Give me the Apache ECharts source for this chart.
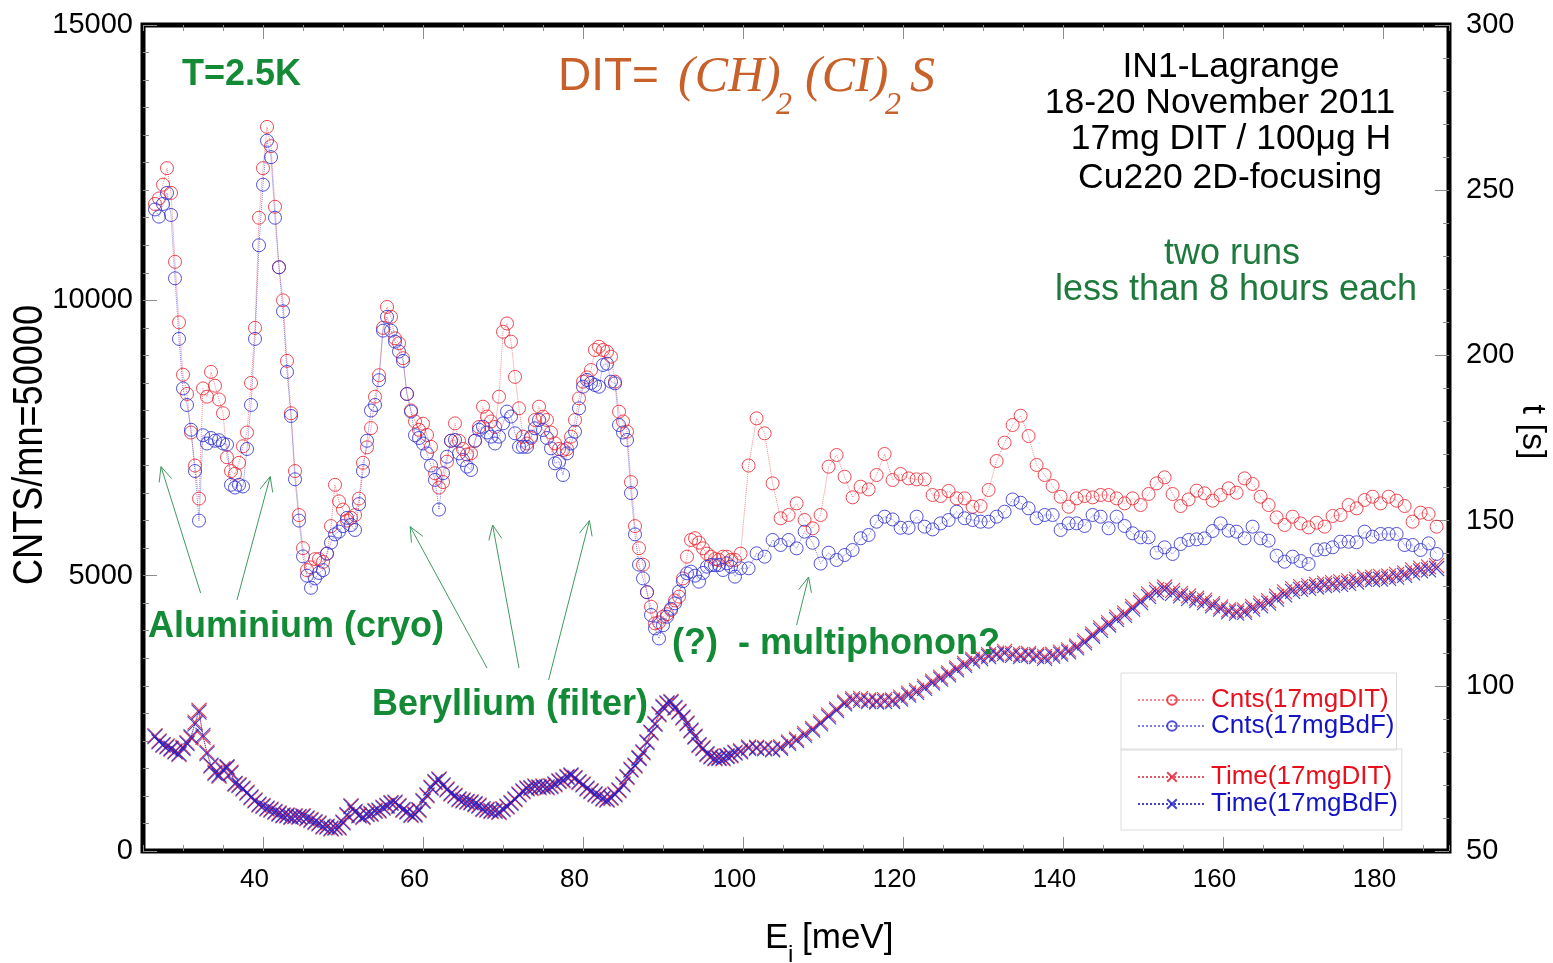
<!DOCTYPE html>
<html>
<head>
<meta charset="utf-8">
<script src="https://cdn.jsdelivr.net/npm/echarts@6/dist/echarts.min.js"></script>
<style>
  html, body { margin: 0; padding: 0; background: #fff; }
  #c { width: 1553px; height: 963px; }
</style>
</head>
<body>
<div id="c"></div>
<script>
// Incident energy grid E_i [meV]: 0.5 meV steps up to 99, then 1 meV steps
const energies = [
  26.5, 27, 27.5, 28, 28.5, 29, 29.5, 30, 30.5, 31,
  31.5, 32, 32.5, 33, 33.5, 34, 34.5, 35, 35.5, 36,
  36.5, 37, 37.5, 38, 38.5, 39, 39.5, 40, 40.5, 41,
  41.5, 42, 42.5, 43, 43.5, 44, 44.5, 45, 45.5, 46,
  46.5, 47, 47.5, 48, 48.5, 49, 49.5, 50, 50.5, 51,
  51.5, 52, 52.5, 53, 53.5, 54, 54.5, 55, 55.5, 56,
  56.5, 57, 57.5, 58, 58.5, 59, 59.5, 60, 60.5, 61,
  61.5, 62, 62.5, 63, 63.5, 64, 64.5, 65, 65.5, 66,
  66.5, 67, 67.5, 68, 68.5, 69, 69.5, 70, 70.5, 71,
  71.5, 72, 72.5, 73, 73.5, 74, 74.5, 75, 75.5, 76,
  76.5, 77, 77.5, 78, 78.5, 79, 79.5, 80, 80.5, 81,
  81.5, 82, 82.5, 83, 83.5, 84, 84.5, 85, 85.5, 86,
  86.5, 87, 87.5, 88, 88.5, 89, 89.5, 90, 90.5, 91,
  91.5, 92, 92.5, 93, 93.5, 94, 94.5, 95, 95.5, 96,
  96.5, 97, 97.5, 98, 98.5, 99,
  99.7, 100.7, 101.7, 102.7, 103.7, 104.7, 105.7, 106.7, 107.7, 108.7,
  109.7, 110.7, 111.7, 112.7, 113.7, 114.7, 115.7, 116.7, 117.7, 118.7,
  119.7, 120.7, 121.7, 122.7, 123.7, 124.7, 125.7, 126.7, 127.7, 128.7,
  129.7, 130.7, 131.7, 132.7, 133.7, 134.7, 135.7, 136.7, 137.7, 138.7,
  139.7, 140.7, 141.7, 142.7, 143.7, 144.7, 145.7, 146.7, 147.7, 148.7,
  149.7, 150.7, 151.7, 152.7, 153.7, 154.7, 155.7, 156.7, 157.7, 158.7,
  159.7, 160.7, 161.7, 162.7, 163.7, 164.7, 165.7, 166.7, 167.7, 168.7,
  169.7, 170.7, 171.7, 172.7, 173.7, 174.7, 175.7, 176.7, 177.7, 178.7,
  179.7, 180.7, 181.7, 182.7, 183.7, 184.7, 185.7, 186.7
];

// Counts per monitor 50000, sample run (17 mg DIT)
const cntsDIT = [
  11750, 11850, 12100, 12400, 11950, 10700, 9600, 8650, 8300, 7600,
  7000, 6400, 8400, 8250, 8700, 8450, 8200, 7950, 7150, 6900,
  6850, 7050, 7350, 7600, 8500, 9500, 11500, 12400, 13150, 12800,
  11700, 10600, 10000, 8900, 7950, 6900, 6100, 5500, 5100, 5150,
  5300, 5300, 5250, 5400, 5900, 6650, 6350, 6200, 6000, 6050,
  6100, 6400, 7050, 7330, 7680, 8250, 8640, 9500, 9880, 9700,
  9310, 9220, 8950, 8300, 8000, 7800, 7650, 7760, 7555, 7340,
  6860, 6600, 6700, 7070, 7450, 7766, 7450, 7300, 7200, 7220,
  7450, 7700, 8069, 7890, 7800, 7700, 8250, 9430, 9580, 9250,
  8610, 8040, 7524, 7400, 7500, 7827, 8069, 7887, 7827, 7600,
  7403, 7300, 7282, 7300, 7524, 7827, 8220, 8523, 8600, 8735,
  9098, 9158, 9098, 9067, 8977, 8523, 7978, 7800, 7615, 6700,
  5900, 5500, 5200, 4700, 4437, 4134, 4150, 4255, 4300, 4377,
  4550, 4619, 4950, 5345, 5648, 5680, 5600, 5496, 5400, 5345,
  5300, 5285, 5345, 5345, 5285, 5285,
  5400, 7000, 7857, 7585, 6677, 6042, 6102, 6313, 6011, 5860,
  6102, 6979, 7191, 6797, 6422, 6616, 6567, 6828, 7210, 6737,
  6846, 6767, 6749, 6749, 6465, 6447, 6538, 6404, 6404, 6252,
  6265, 6556, 7082, 7415, 7736, 7905, 7536, 7010, 6828, 6629,
  6434, 6252, 6404, 6447, 6422, 6465, 6465, 6404, 6313, 6404,
  6283, 6483, 6677, 6786, 6483, 6265, 6385, 6543, 6495, 6362,
  6465, 6586, 6506, 6767, 6665, 6434, 6283, 6059, 5920, 6071,
  5950, 5877, 5962, 5890, 6084, 6102, 6283, 6223, 6374, 6434,
  6313, 6434, 6362, 6265, 5980, 6144, 6120, 5890
];

// Counts per monitor 50000, background run (17 mg BdF)
const cntsBdF = [
  11650, 11520, 11750, 11950, 11550, 10400, 9300, 8400, 8100, 7650,
  6900, 6000, 7550, 7400, 7500, 7450, 7460, 7400, 7380, 6650,
  6600, 6650, 6620, 7300, 8100, 9300, 11000, 12100, 12900, 12600,
  11500, 10600, 9800, 8700, 7900, 6750, 6000, 5350, 5000, 4780,
  4950, 5050, 5100, 5400, 5600, 5750, 5800, 5900, 6050, 5920,
  5830, 6300, 6900, 7450, 8000, 8100, 8550, 9450, 9700, 9450,
  9250, 9070, 8900, 8300, 7980, 7550, 7500, 7400, 7220, 7000,
  6740, 6200, 6860, 7160, 7450, 7464, 7220, 7100, 6980, 6920,
  7450, 7650, 7705, 7600, 7524, 7400, 7524, 7766, 7980, 7890,
  7585, 7340, 7340, 7340, 7524, 7676, 7827, 7645, 7500, 7312,
  7040, 7070, 6828, 7221, 7400, 7615, 8039, 8432, 8553, 8500,
  8462, 8432, 8826, 8850, 8523, 8492, 7736, 7600, 7464, 6500,
  5750, 5200, 4950, 4700, 4286, 4043, 3860, 4100, 4255, 4400,
  4498, 4710, 4900, 5042, 5073, 5000, 4891, 5050, 5163, 5194,
  5190, 5194, 5103, 5224, 5163, 4982,
  5134, 5134, 5406, 5345, 5648, 5557, 5648, 5496, 5799, 5597,
  5220, 5417, 5285, 5375, 5466, 5679, 5739, 5980, 6071, 6021,
  5870, 5870, 6071, 5890, 5840, 5950, 6011, 6162, 6042, 6011,
  5980, 5980, 6071, 6162, 6384, 6325, 6223, 6042, 6102, 6102,
  5830, 5950, 5950, 5902, 6102, 6071, 5860, 6071, 5902, 5769,
  5696, 5696, 5417, 5515, 5394, 5575, 5648, 5660, 5678, 5811,
  5950, 5817, 5799, 5678, 5890, 5678, 5636, 5363, 5254, 5345,
  5266, 5212, 5466, 5479, 5515, 5617, 5617, 5606, 5799, 5708,
  5757, 5757, 5757, 5557, 5557, 5466, 5587, 5394
];

// Counting time per point [s], sample run
const timeDIT = [
  84.9, 83.3, 82.0, 81.8, 80.8, 80.3, 79.2, 81.4, 82.8, 84.2,
  89.0, 92.6, 84.4, 79.9, 75.7, 73.9, 72.6, 74.9, 75.2, 73.9,
  70.2, 70.1, 68.7, 67.8, 66.1, 65.5, 63.9, 63.8, 62.7, 62.7,
  61.7, 61.5, 60.6, 60.9, 60.1, 60.7, 60.2, 60.7, 59.7, 59.6,
  58.6, 58.5, 57.2, 57.5, 56.6, 57.2, 56.9, 58.8, 60.7, 63.7,
  61.7, 60.9, 60.1, 61.3, 61.1, 62.3, 62.1, 63.3, 63.5, 64.7,
  64.5, 63.8, 62.3, 62.1, 60.7, 61.2, 62.2, 65.3, 66.7, 69.3,
  70.7, 71.8, 69.7, 68.8, 67.2, 66.9, 65.5, 65.5, 64.7, 64.9,
  64.0, 63.9, 62.5, 62.7, 61.9, 62.3, 61.6, 62.8, 63.3, 64.7,
  65.5, 67.3, 67.9, 69.1, 68.9, 69.7, 69.1, 69.7, 69.1, 69.8,
  70.0, 71.3, 71.2, 72.6, 72.7, 72.3, 70.7, 70.3, 68.7, 68.3,
  67.0, 66.9, 65.7, 65.7, 65.9, 67.3, 68.2, 70.3, 72.2, 74.8,
  75.7, 78.3, 79.7, 83.1, 85.7, 88.6, 91.2, 93.8, 94.5, 95.3,
  93.2, 92.3, 90.2, 88.8, 86.3, 84.8, 81.9, 81.3, 79.2, 78.8,
  77.9, 78.3, 77.9, 78.9, 78.8, 79.9,
  80.4, 81.5, 81.4, 81.3, 80.9, 81.6, 83.0, 83.9, 85.6, 87.1,
  89.1, 91.2, 93.0, 95.1, 96.1, 96.2, 95.7, 95.6, 95.8, 95.7,
  96.6, 97.8, 98.6, 99.8, 101.4, 102.6, 103.9, 105.4, 106.8, 108.1,
  108.8, 109.4, 109.9, 110.4, 109.8, 109.4, 109.8, 109.4, 108.9, 109.6,
  110.2, 110.9, 112.1, 113.7, 115.7, 117.5, 119.1, 120.8, 122.1, 124.0,
  126.0, 127.8, 129.1, 129.9, 128.9, 128.0, 127.2, 126.5, 125.9, 124.9,
  123.9, 123.0, 122.7, 122.9, 124.0, 125.0, 125.8, 127.1, 128.4, 129.4,
  130.0, 130.3, 130.7, 131.1, 131.2, 131.5, 131.8, 132.2, 133.0, 132.9,
  133.1, 133.3, 133.7, 134.2, 135.1, 135.6, 136.0, 136.4
];

// Counting time per point [s], background run
const timeBdF = [
  84.6, 83.0, 82.2, 81.5, 81.1, 80.0, 79.5, 81.0, 82.5, 84.6,
  88.5, 92.0, 85.0, 79.5, 76.0, 73.5, 73.0, 74.5, 75.5, 73.5,
  70.5, 69.8, 69.0, 67.5, 66.4, 65.2, 64.2, 63.5, 63.0, 62.4,
  62.0, 61.2, 60.9, 60.6, 60.4, 60.4, 60.5, 60.4, 60.0, 59.3,
  58.9, 58.2, 57.5, 57.2, 56.9, 56.9, 57.2, 58.5, 61.0, 63.4,
  62.0, 60.6, 60.4, 61.0, 61.4, 62.0, 62.4, 63.0, 63.8, 64.4,
  64.8, 63.5, 62.6, 61.8, 61.0, 60.9, 62.5, 65.0, 67.0, 69.0,
  71.0, 71.5, 70.0, 68.5, 67.5, 66.6, 65.8, 65.2, 65.0, 64.6,
  64.3, 63.6, 62.8, 62.4, 62.2, 62.0, 61.9, 62.5, 63.6, 64.4,
  65.8, 67.0, 68.2, 68.8, 69.2, 69.4, 69.4, 69.4, 69.4, 69.5,
  70.3, 71.0, 71.5, 72.3, 73.0, 72.0, 71.0, 70.0, 69.0, 68.0,
  67.3, 66.6, 66.0, 65.4, 66.2, 67.0, 68.5, 70.0, 72.5, 74.5,
  76.0, 78.0, 80.0, 82.8, 86.0, 88.3, 91.5, 93.5, 94.8, 95.0,
  93.5, 92.0, 90.5, 88.5, 86.6, 84.5, 82.2, 81.0, 79.5, 78.5,
  78.2, 78.0, 78.2, 78.6, 79.1, 79.6,
  80.0, 81.1, 81.1, 80.9, 80.6, 81.1, 82.6, 83.4, 85.0, 86.6,
  88.5, 90.6, 92.5, 94.5, 95.6, 95.6, 95.2, 95.1, 95.2, 95.2,
  96.0, 97.2, 98.0, 99.2, 100.8, 102.0, 103.3, 104.8, 106.2, 107.5,
  108.2, 108.8, 109.4, 109.8, 109.2, 108.8, 109.3, 108.8, 108.3, 109.0,
  109.6, 110.3, 111.5, 113.0, 115.0, 116.8, 118.4, 120.0, 121.3, 123.2,
  125.2, 127.0, 128.2, 129.0, 128.0, 127.2, 126.4, 125.8, 125.2, 124.2,
  123.2, 122.4, 122.0, 122.2, 123.2, 124.2, 125.0, 126.2, 127.5, 128.6,
  129.2, 129.5, 129.9, 130.3, 130.5, 130.7, 131.0, 131.4, 132.2, 132.1,
  132.3, 132.5, 132.9, 133.4, 134.2, 134.8, 135.1, 135.5
];

const seriesNames = ['Cnts(17mgDIT)', 'Cnts(17mgBdF)', 'Time(17mgDIT)', 'Time(17mgBdF)'];
const xMajorTicks = [40, 60, 80, 100, 120, 140, 160, 180];

// Annotation arrows in data coordinates: [tail, head] as [E_i, counts]
const arrows = [
  [[32.2, 4685], [27.25, 6980]],
  [[36.75, 4560], [40.9, 6800]],
  [[68.0, 3323], [58.4, 5890]],
  [[72.0, 3323], [68.7, 5920]],
  [[75.7, 3105], [80.8, 6000]],
  [[106.7, 4104], [108.2, 4976]]
];

const GREEN = '#138a36';
const FONT = '"Liberation Sans", Arial, Helvetica, sans-serif';
const SERIF = '"Liberation Serif", "Times New Roman", serif';
const TICK = { color: '#8c8c8c', width: 1 };
const X_MIN = 25, X_MAX = 188.25;

const pairs = ys => energies.map((e, i) => [e, ys[i]]);
const CROSS = 'path://M0,0L10,10M10,0L0,10';

function countsSeries(name, data, stroke, lineColor) {
  return {
    name, type: 'line', data: pairs(data), xAxisIndex: 0, yAxisIndex: 0,
    symbol: 'circle', symbolSize: 13, showSymbol: true,
    itemStyle: { color: 'rgba(255,255,255,0)', borderColor: stroke, borderWidth: 1 },
    lineStyle: { color: lineColor, width: 1, type: 'dotted' },
    emphasis: { disabled: true }, silent: true, z: 3
  };
}
function timeSeries(name, data, stroke, lineColor) {
  return {
    name, type: 'line', data: pairs(data), xAxisIndex: 0, yAxisIndex: 1,
    symbol: CROSS, symbolSize: 15, symbolKeepAspect: true, showSymbol: true,
    itemStyle: { color: 'rgba(255,255,255,0)', borderColor: stroke, borderWidth: 1.1 },
    lineStyle: { color: lineColor, width: 1, type: 'dotted' },
    emphasis: { disabled: true }, silent: true, z: 4
  };
}

const chart = echarts.init(document.getElementById('c'), null, { renderer: 'canvas' });

const baseXAxis = {
  type: 'value', min: X_MIN, max: X_MAX, splitLine: { show: false },
  axisLine: { show: false }
};
const plain = v => String(v);

chart.setOption({
  animation: false,
  backgroundColor: '#fff',
  grid: { left: 143, right: 104, top: 25, bottom: 112, show: true, borderColor: '#000', borderWidth: 5 },
  xAxis: [
    Object.assign({}, baseXAxis, {
      position: 'bottom', interval: 5,
      axisTick: { show: true, inside: true, length: 6, lineStyle: TICK },
      axisLabel: {
        show: true, fontSize: 26, color: '#000', fontFamily: FONT, margin: 16,
        padding: [0, 17, 0, 0],
        formatter: v => (xMajorTicks.indexOf(v) >= 0 ? String(v) : '')
      }
    }),
    Object.assign({}, baseXAxis, {
      position: 'bottom',
      axisTick: { show: true, inside: true, length: 14, lineStyle: TICK, customValues: xMajorTicks },
      axisLabel: { show: false }
    }),
    Object.assign({}, baseXAxis, {
      position: 'top', interval: 5,
      axisTick: { show: true, inside: true, length: 6, lineStyle: TICK },
      axisLabel: { show: false }
    }),
    Object.assign({}, baseXAxis, {
      position: 'top',
      axisTick: { show: true, inside: true, length: 14, lineStyle: TICK, customValues: xMajorTicks },
      axisLabel: { show: false }
    })
  ],
  yAxis: [
    {
      type: 'value', position: 'left', min: 0, max: 15000, interval: 5000,
      axisLine: { show: false }, splitLine: { show: false },
      axisTick: { show: true, inside: true, length: 14, lineStyle: TICK },
      minorTick: { show: true, splitNumber: 10, length: 6, lineStyle: TICK },
      axisLabel: { show: true, fontSize: 29, color: '#000', fontFamily: FONT, margin: 10, formatter: plain }
    },
    {
      type: 'value', position: 'right', min: 50, max: 300, interval: 50,
      axisLine: { show: false }, splitLine: { show: false },
      axisTick: { show: true, inside: true, length: 14, lineStyle: TICK },
      minorTick: { show: true, splitNumber: 5, length: 6, lineStyle: TICK },
      axisLabel: { show: true, fontSize: 29, color: '#000', fontFamily: FONT, margin: 17, formatter: plain }
    }
  ],
  legend: [
    {
      data: [
        { name: seriesNames[0], textStyle: { color: '#e8101c' } },
        { name: seriesNames[1], textStyle: { color: '#1414c4' } }
      ],
      orient: 'vertical', left: 1121, top: 673, padding: [14, 2, 11, 16],
      itemWidth: 68, itemHeight: 12, itemGap: 0, selectedMode: false,
      borderColor: '#dcdcdc', borderWidth: 1,
      textStyle: { fontSize: 26, lineHeight: 25, fontFamily: FONT }
    },
    {
      data: [
        { name: seriesNames[2], textStyle: { color: '#e8101c' } },
        { name: seriesNames[3], textStyle: { color: '#1414c4' } }
      ],
      orient: 'vertical', left: 1121, top: 749, padding: [15, 4, 13, 16],
      itemWidth: 68, itemHeight: 12, itemGap: 1, selectedMode: false,
      borderColor: '#dcdcdc', borderWidth: 1,
      textStyle: { fontSize: 26, lineHeight: 25, fontFamily: FONT }
    }
  ],
  series: [
    countsSeries(seriesNames[0], cntsDIT, 'rgba(236,40,52,0.85)', 'rgba(236,70,80,0.65)'),
    countsSeries(seriesNames[1], cntsBdF, 'rgba(50,50,210,0.85)', 'rgba(60,60,210,0.65)'),
    timeSeries(seriesNames[2], timeDIT, 'rgba(232,30,50,0.85)', 'rgba(220,30,50,0.75)'),
    timeSeries(seriesNames[3], timeBdF, 'rgba(30,30,205,0.85)', 'rgba(20,20,180,0.8)')
  ]
});

// Text annotations and axis titles
function txt(text, x, y, font, fill, align, extra) {
  return Object.assign({
    type: 'text', x, y, z: 20, silent: true,
    style: { text, font, fill, align: align || 'left', verticalAlign: 'middle' }
  }, extra || {});
}

const ORANGE = '#c8602a';
const graphics = [
  txt('T=2.5K', 182, 75, 'bold 36px ' + FONT, GREEN),
  txt('DIT=', 558, 77, '46px ' + FONT, ORANGE),
  txt('(CH)', 678, 78, 'italic 50px ' + SERIF, ORANGE),
  txt('2', 776, 106, 'italic 32px ' + SERIF, ORANGE),
  txt('(CI)', 805, 78, 'italic 50px ' + SERIF, ORANGE),
  txt('2', 885, 106, 'italic 32px ' + SERIF, ORANGE),
  txt('S', 910, 78, 'italic 50px ' + SERIF, ORANGE),
  txt('IN1-Lagrange', 1231, 67, '35.5px ' + FONT, '#000', 'center'),
  txt('18-20 November 2011', 1220, 103, '35.5px ' + FONT, '#000', 'center'),
  txt('17mg DIT / 100\u03bcg H', 1231, 139, '35.5px ' + FONT, '#000', 'center'),
  txt('Cu220 2D-focusing', 1230, 178, '35.5px ' + FONT, '#000', 'center'),
  txt('two runs', 1232, 254, '36px ' + FONT, '#1d7a3c', 'center'),
  txt('less than 8 hours each', 1236, 290, '36px ' + FONT, '#1d7a3c', 'center'),
  txt('Aluminium (cryo)', 148, 627, 'bold 36px ' + FONT, GREEN),
  txt('Beryllium (filter)', 372, 705, 'bold 36px ' + FONT, GREEN),
  txt('(?)  - multiphonon?', 672, 644, 'bold 36px ' + FONT, GREEN),
  // axis titles
  txt('E', 765, 938, '35px ' + FONT, '#000'),
  txt('i', 788, 955, '24px ' + FONT, '#000'),
  txt('[meV]', 802, 938, '35px ' + FONT, '#000'),
  txt('CNTS/mn=50000', 30, 445, '42px ' + FONT, '#000', 'center', { rotation: Math.PI / 2, scaleX: 0.86 }),
  txt('t [s]', 1532, 432, '34px ' + FONT, '#000', 'center', { rotation: -Math.PI / 2 })
];

// Arrows: shaft plus open arrowhead, positioned through the chart's own scales
arrows.forEach(([tail, head]) => {
  const p0 = chart.convertToPixel({ xAxisIndex: 0, yAxisIndex: 0 }, tail);
  const p1 = chart.convertToPixel({ xAxisIndex: 0, yAxisIndex: 0 }, head);
  const dx = p1[0] - p0[0], dy = p1[1] - p0[1];
  const len = Math.hypot(dx, dy);
  const ux = dx / len, uy = dy / len;
  const wing = (ang) => {
    const c = Math.cos(ang), s = Math.sin(ang);
    const bx = -ux, by = -uy;
    return [p1[0] + 16 * (bx * c - by * s), p1[1] + 16 * (bx * s + by * c)];
  };
  const style = { stroke: '#3f9a60', lineWidth: 1, fill: null };
  graphics.push({ type: 'polyline', z: 15, silent: true, shape: { points: [p0, p1] }, style });
  graphics.push({ type: 'polyline', z: 15, silent: true, shape: { points: [wing(0.42), p1, wing(-0.42)] }, style });
});

chart.setOption({ graphic: graphics });
</script>
</body>
</html>
